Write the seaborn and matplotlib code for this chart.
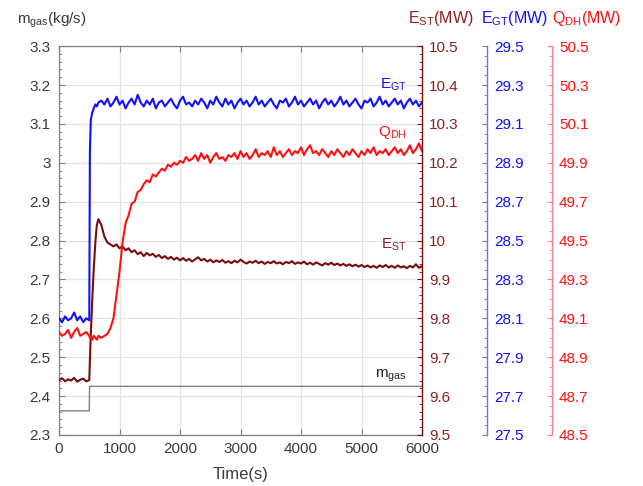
import matplotlib
matplotlib.use("Agg")
import matplotlib.pyplot as plt
import matplotlib.ticker as mticker
import seaborn as sns
import numpy as np

# ---------------- data ----------------
time_s = [0, 50, 100, 150, 200, 250, 300, 350, 400, 450, 500,
          510, 525, 550, 575, 600, 625, 650,
          700, 750, 800, 850, 900, 950, 1000, 1050, 1100, 1150, 1200, 1250, 1300, 1350,
          1400, 1450, 1500, 1550, 1600, 1650, 1700, 1750, 1800, 1850, 1900, 1950, 2000,
          2050, 2100, 2150, 2200, 2250, 2300, 2350, 2400, 2450, 2500, 2550, 2600, 2650,
          2700, 2750, 2800, 2850, 2900, 2950, 3000, 3050, 3100, 3150, 3200, 3250, 3300,
          3350, 3400, 3450, 3500, 3550, 3600, 3650, 3700, 3750, 3800, 3850, 3900, 3950,
          4000, 4050, 4100, 4150, 4200, 4250, 4300, 4350, 4400, 4450, 4500, 4550, 4600,
          4650, 4700, 4750, 4800, 4850, 4900, 4950, 5000, 5050, 5100, 5150, 5200, 5250,
          5300, 5350, 5400, 5450, 5500, 5550, 5600, 5650, 5700, 5750, 5800, 5850, 5900,
          5950, 6000]

e_gt_mw = [28.10, 28.08, 28.11, 28.09, 28.10, 28.13, 28.09, 28.11, 28.08, 28.10, 28.09,
           28.95, 29.12, 29.16, 29.18, 29.20, 29.19, 29.21,
           29.22, 29.20, 29.23, 29.19, 29.21, 29.24, 29.20, 29.22, 29.18, 29.21,
           29.23, 29.20, 29.25, 29.21, 29.19, 29.22, 29.20, 29.23, 29.18, 29.21,
           29.22, 29.19, 29.21, 29.23, 29.20, 29.18, 29.22, 29.24, 29.20, 29.21,
           29.19, 29.22, 29.20, 29.23, 29.21, 29.18, 29.22, 29.20, 29.24, 29.21,
           29.19, 29.23, 29.20, 29.22, 29.18, 29.21, 29.23, 29.20, 29.22, 29.19,
           29.21, 29.24, 29.20, 29.22, 29.19, 29.21, 29.23, 29.20, 29.18, 29.22,
           29.21, 29.23, 29.19, 29.21, 29.24, 29.20, 29.22, 29.19, 29.21, 29.23,
           29.20, 29.22, 29.18, 29.21, 29.23, 29.20, 29.22, 29.19, 29.21, 29.24,
           29.20, 29.22, 29.19, 29.21, 29.23, 29.20, 29.18, 29.22, 29.21, 29.23,
           29.19, 29.21, 29.24, 29.20, 29.22, 29.19, 29.21, 29.23, 29.20, 29.22,
           29.18, 29.21, 29.23, 29.20, 29.22, 29.19, 29.21]

q_dh_mw = [49.03, 49.01, 49.02, 49.04, 49.00, 49.03, 49.05, 49.01, 49.02, 49.03, 49.01,
           49.00, 49.01, 48.99, 49.01, 49.00, 48.99, 49.01,
           49.00, 49.01, 49.02, 49.05, 49.10, 49.22, 49.34, 49.49, 49.59, 49.63, 49.69, 49.70,
           49.75, 49.76, 49.79, 49.81, 49.80, 49.84, 49.83, 49.85, 49.87, 49.86, 49.89, 49.88,
           49.90, 49.89, 49.91, 49.90, 49.93, 49.91, 49.92, 49.94, 49.91, 49.95, 49.92, 49.94,
           49.90, 49.93, 49.95, 49.92, 49.93, 49.91, 49.94, 49.93, 49.95, 49.92, 49.96, 49.93,
           49.95, 49.92, 49.94, 49.97, 49.93, 49.95, 49.94, 49.96, 49.93, 49.98, 49.94, 49.96,
           49.93, 49.95, 49.97, 49.94, 49.96, 49.95, 49.98, 49.94, 49.97, 49.99, 49.95, 49.96,
           49.94, 49.97, 49.95, 49.93, 49.96, 49.94, 49.97, 49.95, 49.93, 49.96, 49.94, 49.97,
           49.95, 49.93, 49.96, 49.94, 49.97, 49.95, 49.98, 49.94, 49.96, 49.95, 49.97, 49.94,
           49.96, 49.98, 49.95, 49.97, 49.94, 49.96, 49.99, 49.95, 49.97, 50.00, 49.96]

e_st_mw = [9.641, 9.646, 9.638, 9.643, 9.640, 9.647, 9.637, 9.642, 9.645, 9.638, 9.641,
           9.690, 9.760, 9.850, 9.930, 9.995, 10.040, 10.055,
           10.040, 10.010, 9.995, 9.990, 9.985, 9.990, 9.980, 9.985, 9.975, 9.980, 9.970,
           9.975, 9.965, 9.970, 9.960, 9.968, 9.962, 9.966, 9.958, 9.963, 9.955, 9.960,
           9.953, 9.958, 9.951, 9.956, 9.949, 9.955, 9.948, 9.953, 9.946, 9.952, 9.957,
           9.949, 9.953, 9.946, 9.951, 9.944, 9.949, 9.945, 9.950, 9.943, 9.947, 9.942,
           9.948, 9.944, 9.951, 9.945, 9.941, 9.946, 9.943, 9.948, 9.942, 9.946, 9.940,
           9.945, 9.942, 9.947, 9.941, 9.944, 9.939, 9.945, 9.942, 9.947, 9.940, 9.944,
           9.941, 9.946, 9.939, 9.943, 9.938, 9.944, 9.940, 9.936, 9.942, 9.938, 9.943,
           9.937, 9.941, 9.936, 9.940, 9.935, 9.939, 9.934, 9.938, 9.933, 9.937, 9.932,
           9.936, 9.931, 9.935, 9.930, 9.936, 9.932, 9.937, 9.931, 9.935, 9.930, 9.936,
           9.931, 9.934, 9.929, 9.935, 9.931, 9.939, 9.930, 9.934]

m_gas_time_s = [0, 500, 505, 6000]
m_gas_kgs = [2.362, 2.362, 2.425, 2.425]

x_ticks = [0, 1000, 2000, 3000, 4000, 5000, 6000]
m_gas_ticks = [2.3, 2.4, 2.5, 2.6, 2.7, 2.8, 2.9, 3.0, 3.1, 3.2, 3.3]
e_st_ticks = [9.5, 9.6, 9.7, 9.8, 9.9, 10.0, 10.1, 10.2, 10.3, 10.4, 10.5]
e_gt_ticks = [27.5, 27.7, 27.9, 28.1, 28.3, 28.5, 28.7, 28.9, 29.1, 29.3, 29.5]
q_dh_ticks = [48.5, 48.7, 48.9, 49.1, 49.3, 49.5, 49.7, 49.9, 50.1, 50.3, 50.5]

assert len(time_s) == len(e_gt_mw) == len(q_dh_mw) == len(e_st_mw), (
    len(time_s), len(e_gt_mw), len(q_dh_mw), len(e_st_mw))

# ---------------- style ----------------
sns.set_style("ticks")
plt.rcParams["font.family"] = ["Liberation Sans", "DejaVu Sans"]
plt.rcParams["mathtext.default"] = "regular"

C_GRAY = "#7f7f7f"
C_TXT = "#3a3a3a"
C_BLUE = "#1010ff"
C_RED = "#ff1010"
C_DRED = "#7a0c0c"
C_DRED_T = "#8c2020"
TICK_FS = 11

fig = plt.figure(figsize=(6.43, 4.86), dpi=100)
ax = fig.add_axes([0.0918, 0.105, 0.5645, 0.800])
ax_st = ax.twinx()
ax_gt = ax.twinx()
ax_qd = ax.twinx()

fmt = mticker.FuncFormatter(lambda v, p: f"{v:g}")

# main axis
sns.lineplot(x=m_gas_time_s, y=m_gas_kgs, ax=ax, color=C_GRAY, linewidth=1.0)
ax.set_xlim(0, 6000)
ax.set_ylim(2.3, 3.3)
ax.set_xticks(x_ticks)
ax.set_yticks(m_gas_ticks)
ax.yaxis.set_major_formatter(fmt)
ax.yaxis.set_minor_locator(mticker.MultipleLocator(0.02))
ax.grid(True, color="#e4e4e4", linewidth=0.9)
ax.set_axisbelow(True)
ax.tick_params(axis="both", which="both", direction="in", colors=C_GRAY,
               labelcolor=C_TXT, labelsize=TICK_FS)
ax.tick_params(axis="x", top=True, length=4, pad=5)
ax.tick_params(axis="y", which="major", length=4, pad=6)
ax.tick_params(axis="y", which="minor", length=2)
for s in ["left", "bottom", "top"]:
    ax.spines[s].set_color(C_GRAY)
    ax.spines[s].set_linewidth(0.9)
ax.spines["right"].set_visible(False)
ax.set_xlabel("Time(s)", fontsize=12, color=C_TXT, labelpad=8)
ax.set_ylabel("")

# E_ST axis (attached to the plot's right side)
sns.lineplot(x=time_s, y=e_st_mw, ax=ax_st, color=C_DRED, linewidth=1.5)
ax_st.set_ylim(9.5, 10.5)
ax_st.set_yticks(e_st_ticks)
ax_st.yaxis.set_major_formatter(fmt)
ax_st.yaxis.set_minor_locator(mticker.MultipleLocator(0.02))
ax_st.spines["right"].set_color(C_DRED)
ax_st.spines["right"].set_linewidth(1.0)
for s in ["left", "top", "bottom"]:
    ax_st.spines[s].set_visible(False)
ax_st.tick_params(axis="y", which="both", direction="in", colors=C_DRED,
                  labelcolor=C_DRED_T, labelsize=TICK_FS, pad=5)
ax_st.tick_params(axis="y", which="minor", length=2)
ax_st.set_ylabel("")

# E_GT axis
sns.lineplot(x=time_s, y=e_gt_mw, ax=ax_gt, color=C_BLUE, linewidth=1.5)
ax_gt.set_ylim(27.5, 29.5)
ax_gt.set_yticks(e_gt_ticks)
ax_gt.yaxis.set_major_formatter(fmt)
ax_gt.yaxis.set_minor_locator(mticker.MultipleLocator(0.05))
ax_gt.spines["right"].set_position(("axes", 1.179))
ax_gt.spines["right"].set_color("#6f6fff")
ax_gt.spines["right"].set_linewidth(1.0)
for s in ["left", "top", "bottom"]:
    ax_gt.spines[s].set_visible(False)
ax_gt.tick_params(axis="y", which="both", direction="in", colors="#6f6fff",
                  labelcolor=C_BLUE, labelsize=TICK_FS, pad=5)
ax_gt.tick_params(axis="y", which="minor", length=2)
ax_gt.set_ylabel("")

# Q_DH axis
sns.lineplot(x=time_s, y=q_dh_mw, ax=ax_qd, color=C_RED, linewidth=1.5)
ax_qd.set_ylim(48.5, 50.5)
ax_qd.set_yticks(q_dh_ticks)
ax_qd.yaxis.set_major_formatter(fmt)
ax_qd.yaxis.set_minor_locator(mticker.MultipleLocator(0.05))
ax_qd.spines["right"].set_position(("axes", 1.358))
ax_qd.spines["right"].set_color("#ff8080")
ax_qd.spines["right"].set_linewidth(1.0)
for s in ["left", "top", "bottom"]:
    ax_qd.spines[s].set_visible(False)
ax_qd.tick_params(axis="y", which="both", direction="in", colors="#ff8080",
                  labelcolor=C_RED, labelsize=TICK_FS, pad=5)
ax_qd.tick_params(axis="y", which="minor", length=2)
ax_qd.set_ylabel("")

for a in (ax_st, ax_gt, ax_qd):
    a.set_xlim(0, 6000)

# axis titles
fig.text(0.026, 0.958, r"m$_{gas}$(kg/s)", fontsize=11, color=C_TXT, ha="left", va="center")
fig.text(0.635, 0.962, r"E$_{ST}$(MW)", fontsize=11.5, color=C_DRED_T, ha="left", va="center")
fig.text(0.748, 0.962, r"E$_{GT}$(MW)", fontsize=11.5, color=C_BLUE, ha="left", va="center")
fig.text(0.858, 0.962, r"Q$_{DH}$(MW)", fontsize=11.5, color=C_RED, ha="left", va="center")

# in-plot labels
ax.text(5752, 3.200, r"E$_{GT}$", fontsize=11, color=C_BLUE, ha="right", va="center")
ax.text(5752, 3.078, r"Q$_{DH}$", fontsize=11, color=C_RED, ha="right", va="center")
ax.text(5752, 2.788, r"E$_{ST}$", fontsize=11, color=C_DRED_T, ha="right", va="center")
ax.text(5752, 2.452, r"m$_{gas}$", fontsize=11, color="#222222", ha="right", va="center")

fig.savefig("out.png", dpi=100)
